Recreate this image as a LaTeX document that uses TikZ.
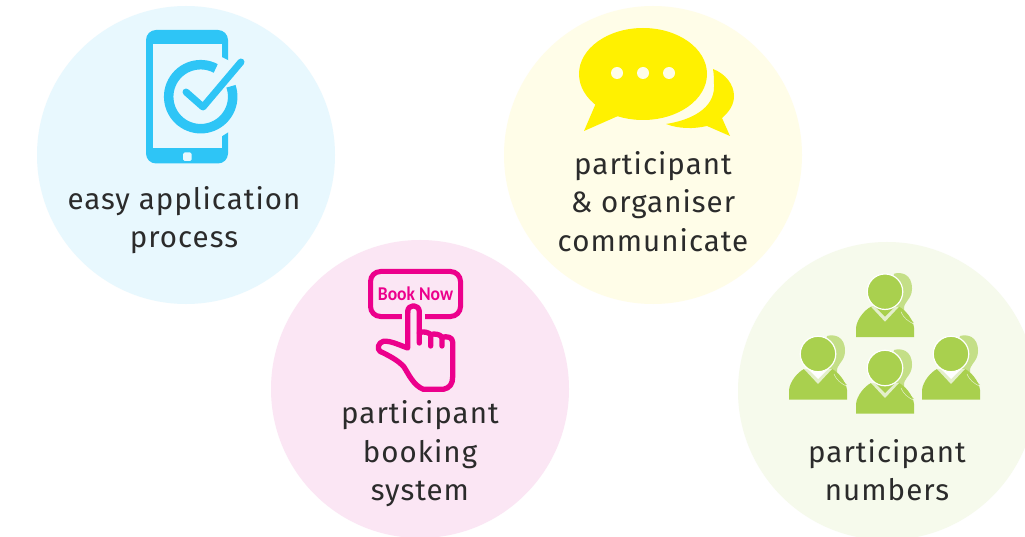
\documentclass[tikz,border=0pt]{standalone}
\usepackage{fontspec}
\setmainfont{Fira Sans}[LetterSpace=3.5]
\newfontfamily\btnfont{Carlito}[BoldFont=Carlito Bold]
\definecolor{cblue}{HTML}{E8F8FE}
\definecolor{cyel}{HTML}{FFFDE8}
\definecolor{cpink}{HTML}{FBE6F4}
\definecolor{cgreen}{HTML}{F6FAEC}
\definecolor{iblue}{HTML}{2EC5F6}
\definecolor{iyel}{HTML}{FFF100}
\definecolor{ipink}{HTML}{EC008C}
\definecolor{igreen}{HTML}{A9D04E}
\definecolor{ihair}{HTML}{C4DF87}
\definecolor{icol}{HTML}{E4EFCB}
\definecolor{txt}{HTML}{2B2B2B}
\tikzset{
  disc/.style={circle,minimum size=298pt,inner sep=0pt,outer sep=0pt},
  lbl/.style={text=txt,align=center,font=\fontsize{29.5}{38.5}\selectfont,inner sep=0pt},
  hand/.style={draw=ipink,line width=5.3pt,line cap=round,line join=round}
}
\newcommand{\person}[4]{% x, y, neck fill, name
  \begin{scope}[shift={(#1,#2)}]
    \fill[ihair] (9,-18) .. controls (16,-20) and (27,-18) .. (27,-3) .. controls (27,8) and (18,10) .. (19,18) .. controls (20,24) and (25,26) .. (29,31) -- (14,30) -- (5,0) -- cycle;
    \fill[igreen] (-29,45.5) -- (-29,36) .. controls (-28,27) and (-20,18) .. (-14,15) -- (14,15) .. controls (20,18) and (28,27) .. (29,36) -- (29,45.5) -- cycle;
    \fill[icol] (-14,15) -- (0,30) -- (14,15) -- cycle;
    \fill[#3] (-11,14) -- (0,25) -- (11,14) -- cycle;
    \draw[icol,line width=.5pt] (16,20) .. controls (19,27) and (23,29) .. (28,32);
    \node[circle,fill=igreen,draw=white,line width=1.2pt,minimum size=35.5pt,inner sep=0pt] (#4) at (0,0) {};
  \end{scope}
}
\begin{document}
\begin{tikzpicture}[x=1pt,y=-1pt]
\useasboundingbox (0,0) rectangle (1025,537);
\fill[white] (0,0) rectangle (1025,537);
\node[disc,fill=cblue] (c1) at (186,155) {};
\node[disc,fill=cyel] (c2) at (653,155) {};
\node[disc,fill=cpink] (c3) at (420,389) {};
\node[disc,fill=cgreen] (c4) at (887,391) {};
% phone
\fill[iblue,rounded corners=10pt] (146,30) rectangle (228,163.5);
\fill[cblue] (153,44) rectangle (222,148);
\fill[cblue] (221,56.7) -- (229,60.7) -- (229,131.7) -- (221,136.7) -- cycle;
\fill[cblue,rounded corners=1.5pt] (183,152.5) rectangle (191.5,161);
\begin{scope}[shift={(200.7,96.7)},x=1pt,y=1pt]
  \draw[iblue,line width=9.5pt] (62:32) arc[start angle=62,end angle=379,radius=32];
\end{scope}
\draw[iblue,line width=7pt,line cap=round,line join=round] (186,92) -- (203,107) -- (241,62);
% speech bubbles
\fill[iyel] (713,69) .. controls (726,74) and (734,85) .. (734,96) .. controls (734,105) and (729,112) .. (722,118) -- (730,136) -- (707,126) .. controls (694,129) and (679,129) .. (666,124) .. controls (692,120) and (714,108) .. (714,87) .. controls (714,80) and (714,75) .. (713,69) -- cycle;
\fill[iyel] (643,74) ellipse[x radius=64,y radius=46];
\fill[iyel] (596,103) -- (584,131) -- (618,116) -- cycle;
\fill[cyel] (617,73) circle[radius=6];
\fill[cyel] (643,73) circle[radius=6];
\fill[cyel] (669,73) circle[radius=6];
% book now
\draw[ipink,line width=5pt,rounded corners=10pt] (370.5,271.5) rectangle (460.5,316.5);
\node[text=ipink,inner sep=0pt,xscale=.9,font=\btnfont\bfseries\fontsize{19.5}{19.5}\selectfont] (bn) at (415.5,294) {Book Now};
\begin{scope}[shift={(360,262)},x=.3333pt,y=-.3333pt]
  \fill[cpink] (125,125) rectangle (195,178);
  \fill[cpink] (143,150) -- (143,258) .. controls (120,250) and (90,235) .. (70,238) .. controls (55,242) and (50,260) .. (60,268) .. controls (85,280) and (115,295) .. (132,315) .. controls (145,335) and (160,370) .. (190,382) -- (250,382) .. controls (270,378) and (278,365) .. (278,345) -- (278,235) -- (178,205) -- (178,150) -- cycle;
  \draw[hand] (143,150) .. controls (143,125) and (178,125) .. (178,150) -- (178,243);
  \draw[hand] (143,150) -- (143,258) .. controls (120,250) and (90,235) .. (70,238) .. controls (55,242) and (50,260) .. (60,268) .. controls (85,280) and (115,295) .. (132,315) .. controls (145,335) and (160,370) .. (190,382) -- (250,382) .. controls (270,378) and (278,365) .. (278,345) -- (278,240) .. controls (278,225) and (260,222) .. (246,226) -- (246,252);
  \draw[hand] (246,226) .. controls (240,216) and (222,214) .. (212,218) -- (212,252);
  \draw[hand] (212,218) .. controls (205,210) and (190,208) .. (178,212);
\end{scope}
% people
\person{885}{291.7}{igreen}{p1}
\person{818}{354}{white}{p2}
\person{951}{354}{white}{p3}
\person{885}{368}{igreen}{p4}
% labels
\node[lbl] (t1) at (184,220) {easy application\\process};
\node[lbl] (t2) at (653,201.5) {participant\\\&\ organiser\\communicate};
\node[lbl] (t3) at (420,454) {participant\\booking\\system};
\node[lbl] (t4) at (887,470) {participant\\numbers};
\end{tikzpicture}
\end{document}
